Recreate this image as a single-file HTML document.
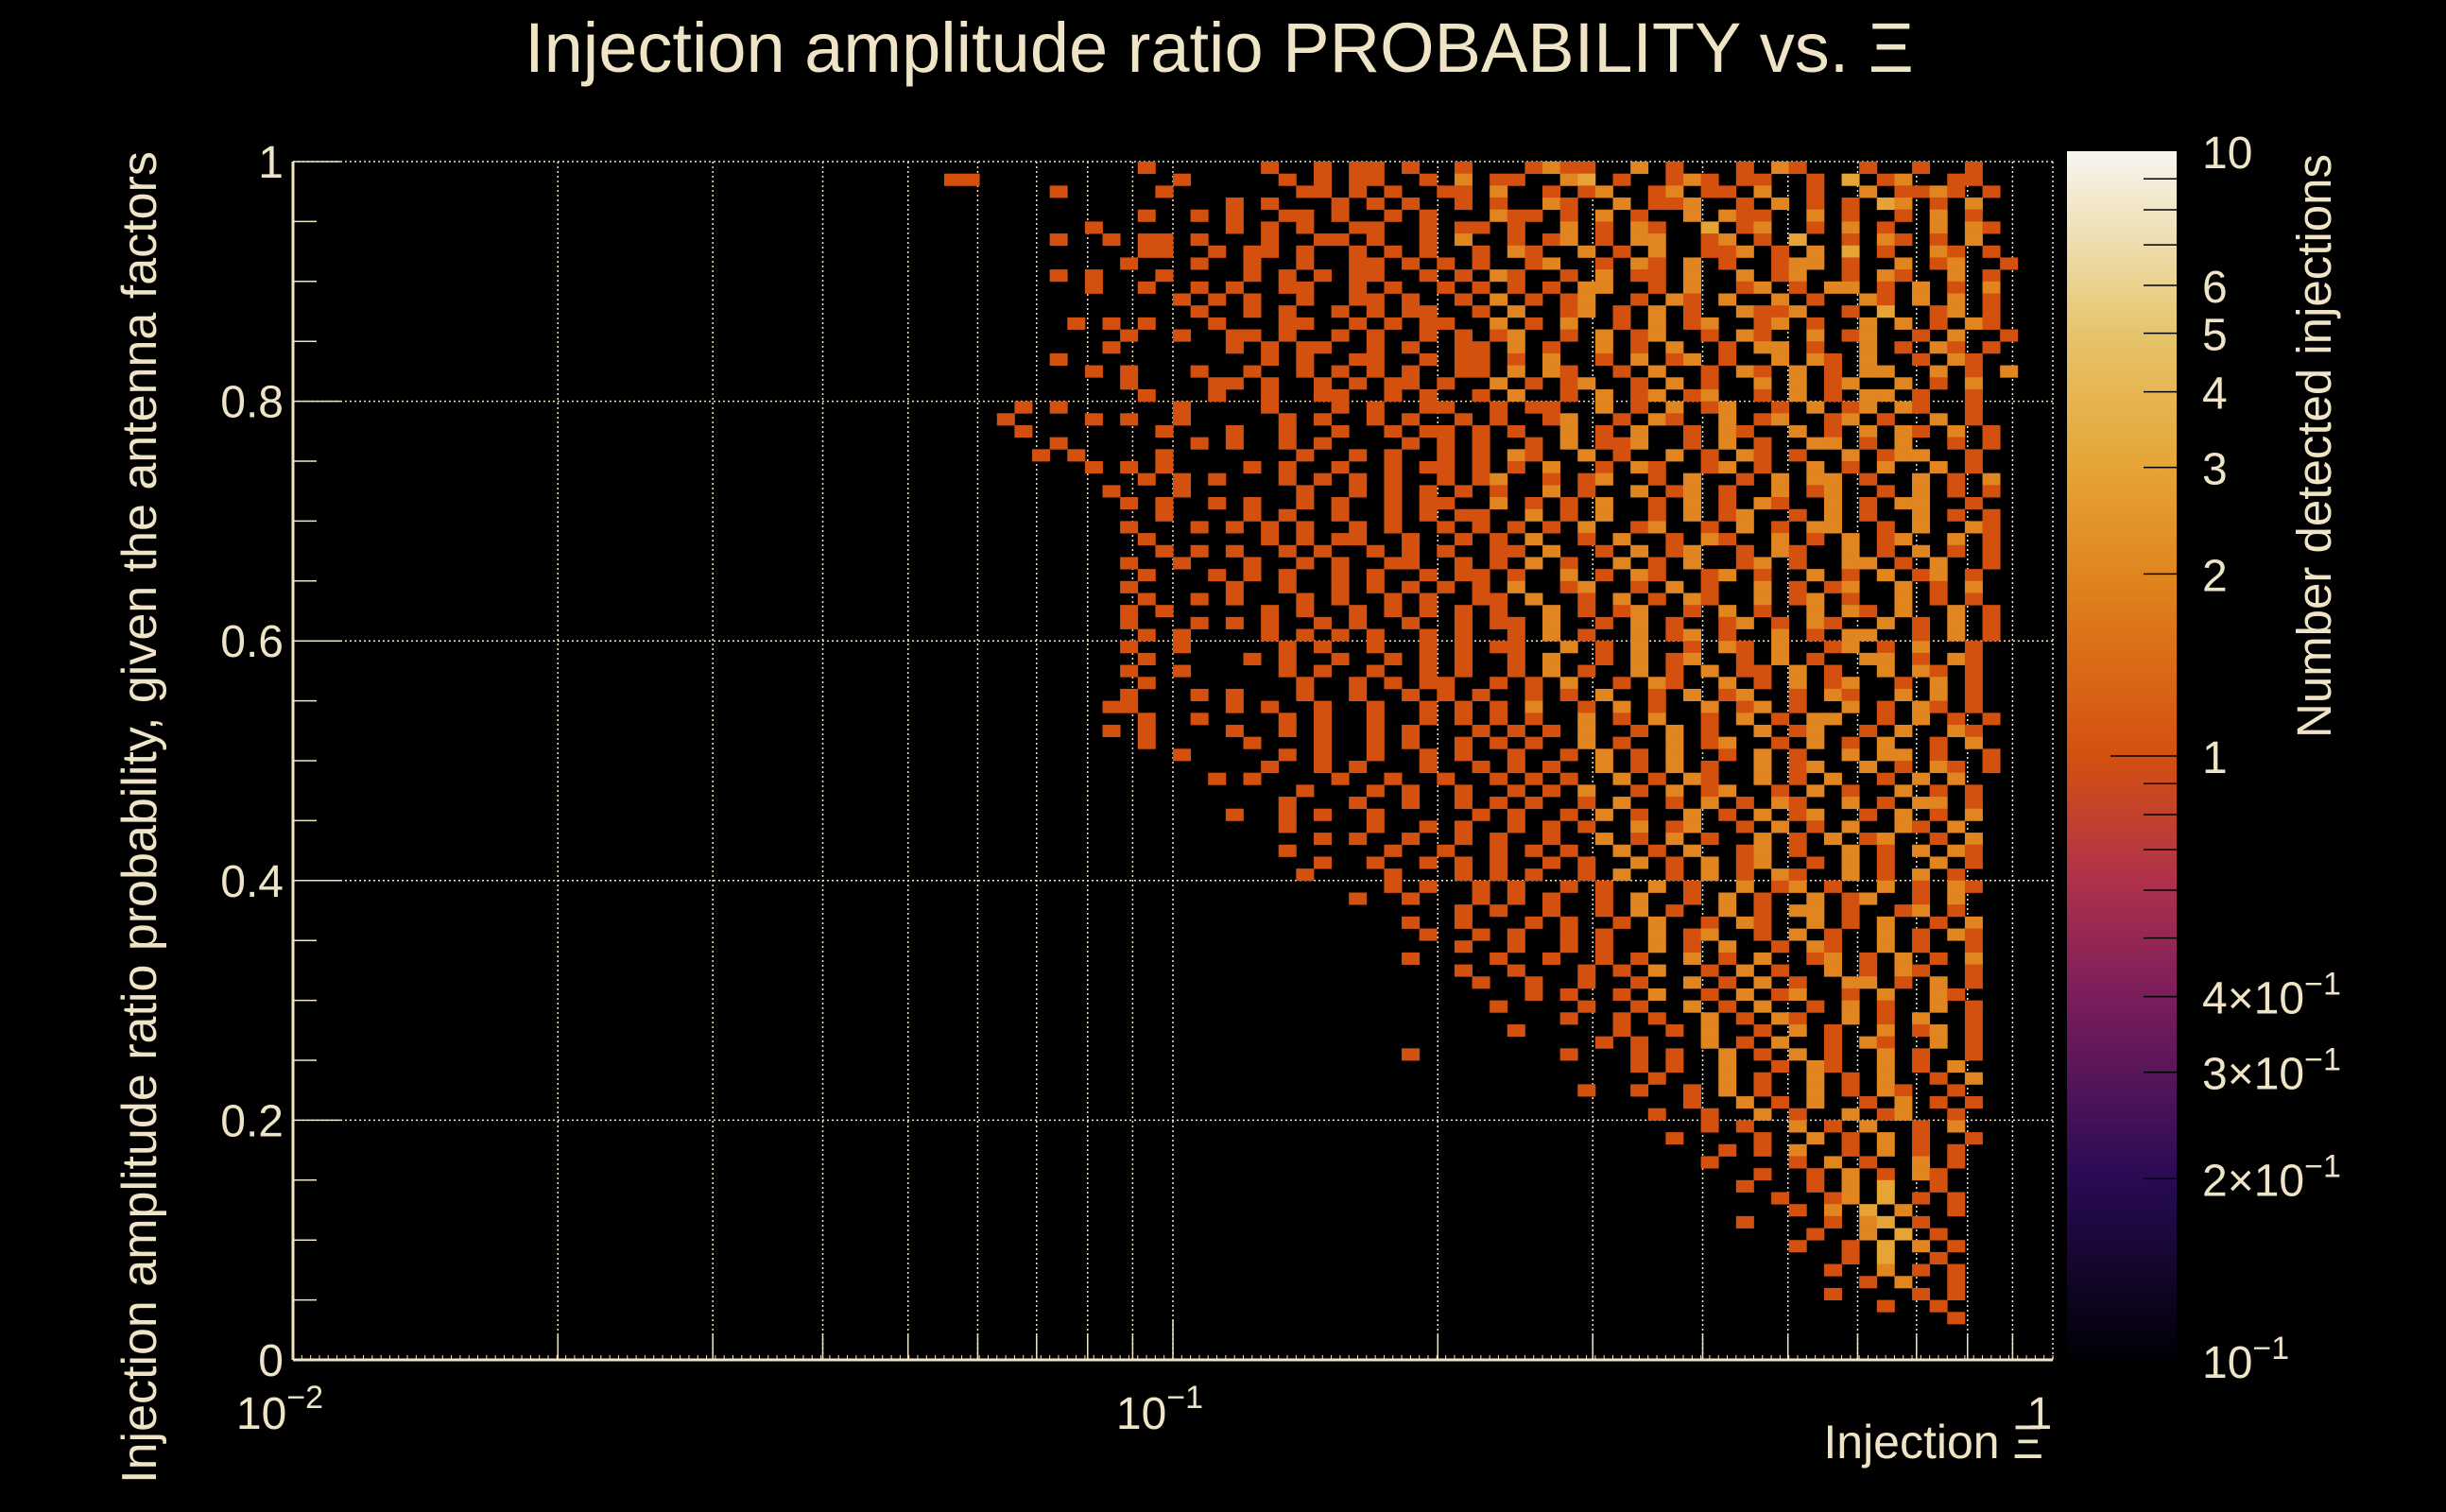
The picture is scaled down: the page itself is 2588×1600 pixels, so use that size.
<!DOCTYPE html>
<html><head><meta charset="utf-8"><style>
html,body{margin:0;padding:0;background:#000;}
svg{display:block;}
text{font-family:"Liberation Sans",sans-serif;fill:#efe5c6;}
</style></head><body>
<svg id="chart" width="2588" height="1600" viewBox="0 0 2588 1600" xmlns="http://www.w3.org/2000/svg">
<rect x="0" y="0" width="2588" height="1600" fill="#000"/>
<defs>
<linearGradient id="cbg" x1="0" y1="1" x2="0" y2="0">
<stop offset="0" stop-color="#000004"/>
<stop offset="0.15" stop-color="#280b54"/>
<stop offset="0.30" stop-color="#7a1d5c"/>
<stop offset="0.40" stop-color="#b0324a"/>
<stop offset="0.5" stop-color="#d4500f"/>
<stop offset="0.65" stop-color="#e0851f"/>
<stop offset="0.74" stop-color="#e5a535"/>
<stop offset="0.85" stop-color="#e6c46c"/>
<stop offset="1" stop-color="#f7f6f1"/>
</linearGradient>
</defs>
<g id="grid"></g>
<g id="cells"></g>
<g id="axes"></g>
<text x="1290" y="76" font-size="74" text-anchor="middle">Injection amplitude ratio PROBABILITY vs.  Ξ</text>
<text transform="translate(165,865) rotate(-90)" font-size="52" text-anchor="middle">Injection amplitude ratio probability, given the antenna factors</text>
<text x="2162" y="1543" font-size="50" text-anchor="end">Injection Ξ</text>
<text transform="translate(2466,472) rotate(-90)" font-size="51" text-anchor="middle">Number detected injections</text>
<rect x="2187" y="160" width="116" height="1280" fill="url(#cbg)"/>
<g id="cbar"></g>
</svg>
<script>
const xTicks = [0.01, 0.1, 1];
const xTickLabels = [["10","-2"],["10","-1"],["1",""]];
const yTicks = [0, 0.2, 0.4, 0.6, 0.8, 1];
const yTickLabels = ["0","0.2","0.4","0.6","0.8","1"];
const cbTicks = [10, 6, 5, 4, 3, 2, 1, 0.4, 0.3, 0.2, 0.1];
const cbLabels = [["10",""],["6",""],["5",""],["4",""],["3",""],["2",""],["1",""],["4×10","-1"],["3×10","-1"],["2×10","-1"],["10","-1"]];
const nXBins = 100, nYBins = 100, firstCol = 37;
const rows = [
"...........1......1..1.11.1..1...1211..2.1...1.21...1..1..1..",
"11...........1.....1.1.11..1.2.11..23.1..121.11..1.3.12..11...",
"......1.....1.......11.1.1..11.2..1.12..12.11.2..1..2.1121.1..",
"................1.1...1.1.1..1.1..21..2.112..1.2.1.1.32.1.2...",
"...........1..1.1..11.1..1.1...211.1.2.1..2.211..2.1..1.2.1...",
"........1.......1.1.1..11..1.11.1..2.1.21..3.12..1.2.1..2.21..",
"......1..1.11.1...1..11.1..1.2..1.12.1.22..12.1.3..1.21.1.2...",
"...........11..1.11.1..1.1.1..1.21..2.1.2..112.1.2.3.1..21.1..",
"..........1...1..1..1..11.1.1.1..12..1.21.2.1..122.1..2.12..1.",
"......1.1...1....1.1.1.11..1.1.21..1.2.11.2..2.12..1.21..2.1..",
"........1..1..1.1..11..1.1..1.1.1.1.22..1.2..12.1.22.1.2.1.2..",
".............1.1.1..1..11.1..1.2.1.12..1.21.2..2.1..21.2.2.1..",
"..............1..1.1..1.1.11..1.2..12.1.2.1..2112..1.3..12.1..",
".......1.1.1...1...11..1.1.11..2.1.2..1.2.12..12.1..2.2.1.21..",
"..........1..1..11.1..1.1..1.1.12..1.2.12..1.21..2.12..1.2..1.",
".........1......1.1.11..1.1..11.2.1..2.1.2..1.22.1..2.1.21.1..",
"......1...........1.1..11..1.11.1.2..1.2.12.1..2.21.2..1.21...",
"........1.1...1..1..1.1.1.1..11.2.21..1.2..1.21.2.1.22..2.1.2.",
"..........1....11.1..1.1.11.1..2.1.12..1.2.1..2.2.12..2.1.2...",
"...........1...1..1..11..1.1..1.2..1.2.12.12..1.2.1.22.1..1...",
"....1.1......1....1...1.1..11..1.11..2.1.2.12..1.2.12.21..1...",
"...1....1.1..1.....1.1..1.1..1.1..12..1.21..2.12..12.1..2.1...",
"....1.......1...1..1..1..1.11.1.1..2.1.2..1.21..2.1.2.21.2.1..",
"......1.......1.1..1.1....1.1.1..1.2.112..1.2.1..22.1.2..1.1..",
".....1.1....1.......1..1.1..1.1.21..2.1..2.1.21.1..2.122..1...",
"........1.1.1....1.1..1..1.11.1.1.2..1.21..12.1..2.1.2..2.1...",
"...........1.1.1...1.1.1.1..1.12..1.12..1.2..1.2.22.1..2.1.2..",
".........1...1......1..1.1.1.1.1..2.1..2.12.1..2.12..1.2.1.1..",
"..........1.1..1.1..1.1..1.11..2.1.1.2..1.2.1.21..2.1.22..1...",
"............1....1.1..1..1.1.11..2.1.2..1.2.12..1.2.1..2.1.1..",
"..........1...1.1.1.1..1.1..1.1.1.1.2..12..1.2.1.22..1.2..21..",
"...........1......1.1.11..1..1.1.2..1.2..1.21..2.1.2.12..2.1..",
"............1.1.1..1.1..1.1.1..11.2..1.2.12..1.21..2.1.2.1.1..",
"..........1..1...1..1.1..11..1.1.2.1..2.1.2..12.1..22.1.2..1..",
"...........1...1.1.1..1.1..1.11.1..2.1.21..12.1..2.1.2.12.1...",
"..........1.....1..1..1.1.1.1.1.2..12..1.2.1..2.1.12..2.1.2...",
"...........1..1.1...1.1..1.1..11.2..1.2.1.21..2.12.1..2.1.1...",
"..........1.1.....1.1..1.1.1.1.1..2.1.12..1.2.1..2.21.2..2.1..",
"..........1...1.1.1..1.1..1..1.11.2..1.2.1..12.1.21..2.1.2.1..",
"...........1.1....1.1.1.1..1.1..1.2.1..2.12.1..2.1.22..1.2.1..",
"..........1..1.....1.1..1..1.1.11..2.1.2..1.21.2..12.1.2..1...",
"...........1.....1.1..1..1.1.1..1.2..1.2.12..1.2.1..22.1.21...",
"..........1..1.....1.1..1..1.1..1.2.1..2.1.2.11.2.1..2.21.1...",
"...........1........1..1.1.11..1.1.2..1.21..2.1.2.12..1.2.1...",
"..........1...1.1...1..1..1.1.1..1.1.2..1.2.12..1.21..2.2.1...",
".........11.....1.1..1..1..1.1.1.2..1.2.1..2.12.1..2.1.21.1...",
"...........1..1....1.1..1..1.1.1.1..2.1.2..1.2.1.22..1.2.1.1..",
".........1.1....1..1.1..1.1...1.1.1.2..1.2.1..2.12..1.2..21...",
"...........1.....1...1..1.1..1.1.1..2.1..2.12..1.2.1.2..1.2...",
".............1.....1.1..1..1.1..1..1.2.1.2..1.2.1..2.22.1..1..",
"..................1..1.1...1..1.1.1..2.1.2.1..2.12..2.1.21.1..",
"...............1.1....1..1..1..1.1.1..2.1.21..2.1.2..1.2.2....",
"....................1...1.1..1..1.1.2..1.2.12..1.2.1..2.1.1...",
"...................1...1..1..1.1.1..1.2..1.2.1.21..2.1.22.1...",
"................1..1.1..1.....1.1..1.2.1..2.1.2.12..1.2.1.2...",
"...................1....1..1.1..1.1.1..2.12..1.2.1.2..21.2....",
".....................1.1..1..1.1..1..2.1.2.1..2.1.2.12..1.2...",
"...................1.....1..1..1.1.1..2.1.2..12.1..2.1.2.21...",
".....................1..1..1.1.1..1.1..2.1.2.12..1.2.1..2.1...",
"....................1....1...1.1.1..1.2..1.2.1.21..2.1.2.1....",
".........................1.1..1.1..1.1..2.1..2.12.1..2.1.21...",
".......................1..1...1.1.1..1.2..1.2.1..2.12..1.2....",
".............................1.1..1..1.2.1..2.1.22.1..12.1....",
"..........................1..1...1.1..1.2..1.21..2.1.2..1.2...",
"...........................1..1.1..1.1..2.12..1.2.1..2.1.21...",
".............................1..1..1.1..2.1.2..1.21..2.1..1...",
"..........................1....1..1..1.1..2.1.2..12.1.2.1.2...",
".............................1..1...1.1.2..1.2.1..2.1.21..1...",
"..............................1..1..1..1..2.1.2.1..22.1.2.1...",
".................................1.1..1.2..1.2.12..1.2..21....",
"...............................1....1..1..2.1.2..1.2.1..2.1...",
"...................................1..1.1..2.1.21..2.1.2..1...",
"................................1.....1..1.2..1.2.1..2.12.1...",
".....................................1.1...2.1.2..1.21..2.1...",
"..........................1........1...1.1..2.1.2.1..2.1..1...",
".......................................1.1..2..1.21..2.1.2....",
"........................................1...2.1..2.1.2..1.2...",
"....................................1..1..1.2.1..2.1.21..1....",
"..........................................1..2.1.2..1.2.1.1...",
"........................................1..1..2.1..2.12..1....",
"...........................................1.1..2.1.2..1.2....",
".........................................1....1..2.1.2.1..1...",
"............................................1.1.2..1.2.1.1....",
"...........................................1....1.2.1..2.1....",
"..............................................1..1.2.1.21.....",
".............................................1...1.2.3..1.....",
"...............................................1..12.3.1.1....",
"................................................1.2.3.2..1.....",
".............................................1....1.23.1......",
".................................................1..2.3.1......",
"................................................1..1.3.2.1.....",
"...................................................1.3..1......",
"..................................................1..2.1.1.....",
"....................................................1.2..1.....",
"..................................................1....1.1.....",
".....................................................1..1......",
".........................................................1......"
];
</script>
<script>
const NS = "http://www.w3.org/2000/svg";
const PX0 = 310, PX1 = 2172, PY0 = 1439, PY1 = 171;
const CBY0 = 1440, CBY1 = 160, CBX0 = 2187, CBX1 = 2303;
function xScale(v){ return PX0 + (Math.log10(v) + 2) / 2 * (PX1 - PX0); }
function yScale(v){ return PY0 - v * (PY0 - PY1); }
function cbScale(v){ return CBY0 - (Math.log10(v) + 1) / 2 * (CBY0 - CBY1); }
function mk(tag, attrs, parent){
  const e = document.createElementNS(NS, tag);
  for (const k in attrs) e.setAttribute(k, attrs[k]);
  parent.appendChild(e);
  return e;
}
const palette = [[0,[0,0,4]],[0.15,[40,11,84]],[0.30,[122,29,92]],[0.40,[176,50,74]],[0.5,[212,80,15]],[0.65,[224,133,31]],[0.74,[229,165,53]],[0.85,[230,196,108]],[1,[247,246,241]]];
function colorFor(v){
  const t = Math.max(0, Math.min(1, (Math.log10(v) + 1) / 2));
  for (let i = 1; i < palette.length; i++){
    if (t <= palette[i][0]){
      const a = palette[i-1], b = palette[i];
      const f = (t - a[0]) / (b[0] - a[0]);
      const c = a[1].map((x, j) => Math.round(x + (b[1][j] - x) * f));
      return "rgb(" + c.join(",") + ")";
    }
  }
  return "rgb(247,246,241)";
}
const grid = document.getElementById("grid");
const cells = document.getElementById("cells");
const axes = document.getElementById("axes");
const cbar = document.getElementById("cbar");
const gs = {stroke:"#efe5c6","stroke-width":1.5,"stroke-dasharray":"2 3"};
for (let d = -2; d < 0; d++){
  for (let m = 1; m <= 9; m++){
    const v = m * Math.pow(10, d);
    if (v <= 0.01) continue;
    const x = xScale(v);
    const g = mk("line", Object.assign({x1:x, x2:x, y1:PY1, y2:PY0}, gs), grid);
    
    
    const t = mk("line", {x1:x, x2:x, y1:PY0, y2:PY0 - (m === 1 ? 42 : 28), stroke:"#efe5c6","stroke-width":1.5}, axes);
    
    
  }
}
{ const g = mk("line", Object.assign({x1:PX1, x2:PX1, y1:PY1, y2:PY0}, gs), grid);
  
   }
yTicks.forEach((v) => {
  if (v === 0) return;
  const y = yScale(v);
  const g = mk("line", Object.assign({x1:PX0, x2:PX1, y1:y, y2:y}, gs), grid);
  
  
});
rows.forEach((row, r) => {
  for (let i = 0; i < row.length; i++){
    const ch = row[i];
    if (ch === ".") continue;
    const count = parseInt(ch, 10);
    const c = firstCol + i;
    const x0 = xScale(Math.pow(10, -2 + c * 2 / nXBins));
    const x1 = xScale(Math.pow(10, -2 + (c + 1) * 2 / nXBins));
    const yTop = yScale(1 - r / nYBins);
    const yBot = yScale(1 - (r + 1) / nYBins);
    const rc = mk("rect", {x:x0, y:yTop, width:x1 - x0 + 0.4, height:yBot - yTop + 0.4, fill:colorFor(count)}, cells);
    
    
  }
});
{ const a = mk("line", {x1:PX0, x2:PX1, y1:PY0, y2:PY0, stroke:"#efe5c6","stroke-width":3}, axes);
  
  
  const b = mk("line", {x1:PX0, x2:PX0, y1:PY0, y2:PY1, stroke:"#efe5c6","stroke-width":3}, axes);
  
   }
for (let i = 0; i <= 200; i++){
  const x = PX0 + i * (PX1 - PX0) / 200;
  const t = mk("line", {x1:x, x2:x, y1:PY0, y2:PY0 - 5, stroke:"#efe5c6","stroke-width":1}, axes);
  
  
}
for (let k = 0; k <= 20; k++){
  const v = k * 0.05;
  const y = yScale(v);
  const t = mk("line", {x1:PX0, x2:PX0 + (k % 4 === 0 ? 50 : 25), y1:y, y2:y, stroke:"#efe5c6","stroke-width":1.5}, axes);
  
  
}
yTicks.forEach((v, i) => {
  const t = mk("text", {x:300, y:yScale(v) + 17, "font-size":48, "text-anchor":"end"}, axes);
  t.textContent = yTickLabels[i];
  
  
});
xTicks.forEach((v, i) => {
  const t = mk("text", {x:xScale(v) - 14, y:1512, "font-size":48, "text-anchor":"middle"}, axes);
  
  
  t.appendChild(document.createTextNode(xTickLabels[i][0]));
  if (xTickLabels[i][1]){
    const s = mk("tspan", {dy:-22, "font-size":34}, t);
    s.textContent = "−" + xTickLabels[i][1].replace("-", "");
  }
});
for (let d = -1; d < 1; d++){
  for (let m = 1; m <= 9; m++){
    const v = m * Math.pow(10, d);
    const y = cbScale(v);
    const t = mk("line", {x1:CBX1 - (m === 1 ? 70 : 35), x2:CBX1, y1:y, y2:y, stroke:"#000","stroke-width":1.5}, cbar);
    
    
  }
}
cbTicks.forEach((v, i) => {
  const t = mk("text", {x:2330, y:cbScale(v) + 18, "font-size":48}, cbar);
  
  
  t.appendChild(document.createTextNode(cbLabels[i][0]));
  if (cbLabels[i][1]){
    const s = mk("tspan", {dy:-20, "font-size":34}, t);
    s.textContent = "−1";
  }
});
</script>
</body></html>
